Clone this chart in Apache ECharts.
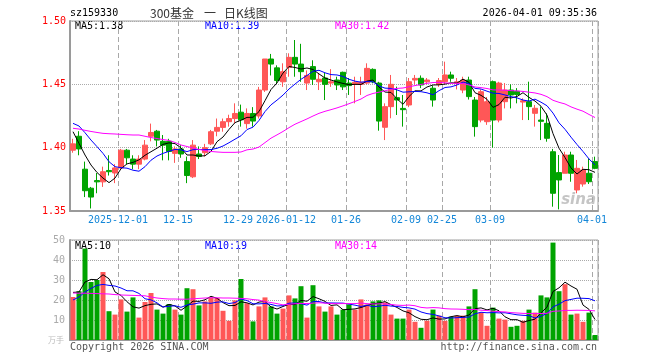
<!DOCTYPE html>
<html><head><meta charset="utf-8">
<script src="https://cdn.jsdelivr.net/npm/echarts@6/dist/echarts.min.js"></script>
<style>html,body{margin:0;padding:0;background:#fff}#c{width:660px;height:360px}</style>
</head><body><div id="c"></div>
<script>
const dates = ['2025-11-19','2025-11-20','2025-11-21','2025-11-24','2025-11-25','2025-11-26','2025-11-27','2025-11-28','2025-12-01','2025-12-02','2025-12-03','2025-12-04','2025-12-05','2025-12-08','2025-12-09','2025-12-10','2025-12-11','2025-12-12','2025-12-15','2025-12-16','2025-12-17','2025-12-18','2025-12-19','2025-12-22','2025-12-23','2025-12-24','2025-12-25','2025-12-26','2025-12-29','2025-12-30','2025-12-31','2026-01-05','2026-01-06','2026-01-07','2026-01-08','2026-01-09','2026-01-12','2026-01-13','2026-01-14','2026-01-15','2026-01-16','2026-01-19','2026-01-20','2026-01-21','2026-01-22','2026-01-23','2026-01-26','2026-01-27','2026-01-28','2026-01-29','2026-01-30','2026-02-02','2026-02-03','2026-02-04','2026-02-05','2026-02-06','2026-02-09','2026-02-10','2026-02-11','2026-02-12','2026-02-13','2026-02-24','2026-02-25','2026-02-26','2026-02-27','2026-03-02','2026-03-03','2026-03-04','2026-03-05','2026-03-06','2026-03-09','2026-03-10','2026-03-11','2026-03-12','2026-03-13','2026-03-16','2026-03-17','2026-03-18','2026-03-19','2026-03-20','2026-03-23','2026-03-24','2026-03-25','2026-03-26','2026-03-27','2026-03-30','2026-03-31','2026-04-01'];

const opens = [1.398,1.409,1.383,1.368,1.374,1.373,1.382,1.380,1.384,1.398,1.391,1.387,1.391,1.409,1.413,1.405,1.405,1.3955,1.399,1.389,1.377,1.395,1.396,1.403,1.413,1.416,1.4205,1.423,1.428,1.419,1.427,1.425,1.4455,1.470,1.463,1.452,1.4634,1.4713,1.466,1.451,1.464,1.452,1.455,1.451,1.4534,1.4595,1.451,1.450,1.450,1.451,1.4618,1.451,1.4161,1.4324,1.4395,1.431,1.4337,1.4534,1.4548,1.452,1.4469,1.450,1.4521,1.4574,1.451,1.4455,1.4534,1.4376,1.4218,1.4205,1.4521,1.4218,1.4363,1.4455,1.4445,1.436,1.4363,1.4271,1.4218,1.4192,1.3968,1.3803,1.3798,1.3942,1.3666,1.3713,1.3798,1.389];
const closes = [1.403,1.399,1.366,1.361,1.373,1.381,1.381,1.384,1.398,1.392,1.387,1.391,1.402,1.412,1.406,1.402,1.397,1.399,1.395,1.378,1.402,1.393,1.400,1.4126,1.416,1.4205,1.423,1.427,1.422,1.427,1.421,1.4455,1.470,1.466,1.453,1.460,1.4713,1.466,1.460,1.457,1.454,1.454,1.450,1.452,1.4495,1.448,1.449,1.4516,1.4516,1.4626,1.452,1.421,1.4324,1.450,1.4376,1.430,1.4521,1.4547,1.4495,1.4534,1.4376,1.453,1.4574,1.4548,1.452,1.4534,1.4403,1.4166,1.4442,1.4363,1.4218,1.451,1.4455,1.4416,1.442,1.437,1.4324,1.4311,1.4208,1.4074,1.364,1.3745,1.3942,1.3798,1.3837,1.3824,1.3731,1.3837];
const lows = [1.396,1.394,1.361,1.352,1.364,1.369,1.378,1.372,1.383,1.387,1.383,1.383,1.390,1.405,1.401,1.390,1.390,1.388,1.392,1.372,1.376,1.391,1.393,1.402,1.409,1.4126,1.4166,1.419,1.4166,1.415,1.4166,1.423,1.444,1.457,1.451,1.448,1.456,1.456,1.452,1.4455,1.4495,1.4455,1.4376,1.448,1.4455,1.4455,1.4416,1.435,1.4416,1.450,1.4508,1.4134,1.406,1.4232,1.4258,1.4166,1.432,1.450,1.447,1.450,1.4324,1.448,1.450,1.452,1.446,1.443,1.438,1.4087,1.420,1.418,1.400,1.420,1.431,1.431,1.435,1.4218,1.4218,1.4166,1.406,1.4047,1.3534,1.3513,1.3798,1.3731,1.364,1.3692,1.3713,1.383];
const highs = [1.407,1.413,1.389,1.369,1.380,1.385,1.394,1.387,1.399,1.399,1.394,1.394,1.406,1.419,1.414,1.410,1.407,1.401,1.402,1.393,1.406,1.401,1.403,1.414,1.423,1.423,1.426,1.435,1.434,1.431,1.432,1.448,1.470,1.474,1.465,1.4666,1.4745,1.485,1.482,1.461,1.469,1.459,1.459,1.462,1.456,1.460,1.455,1.456,1.456,1.4666,1.4626,1.452,1.435,1.4574,1.4482,1.4416,1.455,1.4574,1.457,1.455,1.449,1.455,1.4679,1.460,1.455,1.456,1.456,1.440,1.446,1.440,1.453,1.452,1.451,1.450,1.447,1.439,1.4521,1.4337,1.4324,1.4271,1.399,1.3942,1.3968,1.3968,1.3903,1.385,1.3916,1.3929];
const volumes = [21.5,24.4,45.7,29,30,34,14.4,12.7,20.3,14.2,21.3,11.2,19,23.5,15.2,13.2,18,15.2,12.7,25.9,25.4,17.3,19.3,21.3,21,14.6,9.6,19.8,30.5,18.4,9.3,16.8,21.3,16.8,13.2,15.7,22.3,20.8,26.9,11.2,27.4,16.8,14.2,16.8,12.7,15.2,17.8,15.2,20.3,17.8,19.3,19.8,18.8,12.7,10.7,10.7,15.2,9.1,6.1,9.6,15.2,12.2,9.6,11.7,12.2,12.2,16.8,25.4,13.7,7.1,16.2,10.7,10.2,6.6,7.1,9.6,15.2,13.7,22.3,21.3,48.7,24.4,27.9,12.7,13.2,9.1,13.7,2.5];

// moving-average values for the bars before a full window exists
const ma5Head = [1.4126,1.4034,1.3942,1.3863];
const ma10Head = [1.4192,1.4171,1.4118,1.406,1.4008,1.3955,1.3889,1.385,1.3842];
const ma30Head = [1.4153,1.4147,1.4137,1.4128,1.412,1.4113,1.411,1.4108,1.4105,1.4102,1.41,1.41,1.409,1.408,1.4072,1.4064,1.4057,1.4041,1.4021,1.4009,1.3997,1.3986,1.3978,1.397,1.3966,1.3963,1.3963,1.3963,1.3966];
const vma5Head = [23.8,24,29,30.3];
const vma10Head = [20,21.5,24,25.8,27.3,27.8,27.3,27,26];
const vma30Head = [23.5,23.4,23.4,23.3,23.2,23.1,23,22.7,22.5,22.4,22.3,22.2,22.1,21.5,21,20.7,20.5,20.5,20.4,20.4,20.6,20.8,21,21.1,21.1,21,21,20.9,20.8];

const tickDates = ['2025-12-01','2025-12-15','2025-12-29','2026-01-12','2026-01-26','2026-02-09','2026-02-25','2026-03-09','2026-04-01'];
const tickLabels = ['2025-12-01','12-15','12-29','2026-01-12','01-26','02-09','02-25','03-09','04-01'];
const priceTicks = [1.35,1.40,1.45,1.50];
const volTicks = [10,20,30,40,50];
const titleParts = ['300基金','一','日K线图'];

const RED = '#ff5757', GREEN = '#00a300';
function ma(arr, n, head){
  return arr.map((v,i)=>{
    if(i < n-1) return head[i];
    let s=0; for(let k=i-n+1;k<=i;k++) s+=arr[k];
    return +(s/n).toFixed(4);
  });
}
const candle = dates.map((d,i)=>[opens[i],closes[i],lows[i],highs[i]]);
const volData = volumes.map((v,i)=>({value:v,itemStyle:{color: closes[i]>=opens[i]?RED:GREEN}}));
const MONO = '"DejaVu Sans Mono", "Liberation Mono", monospace';
const CJK = '"Noto Sans CJK SC", sans-serif';
const isTick = (idx, val) => tickDates.indexOf(val) >= 0;

const chart = echarts.init(document.getElementById('c'), null, {renderer:'canvas'});
const xBase = {
  type:'category', data:dates, boundaryGap:true,
  axisTick:{show:false},
  axisLine:{show:true, lineStyle:{color:'#9a9a9a', width:2}},
  splitLine:{show:true, interval:isTick, lineStyle:{color:'#a8a8a8', type:[5,3], width:1}}
};
const txt = (x,y,text,fill,font,align) => ({type:'text', x:x, y:y, silent:true,
  style:{text:text, font:font, fill:fill, align:align||'left', verticalAlign:'middle'}});
chart.setOption({
  animation:false,
  backgroundColor:'#fff',
  grid:[
    {left:70, top:21, width:528, height:190, show:true, borderColor:'#a0a0a0', borderWidth:1},
    {left:70, top:240, width:528, height:100, show:true, borderColor:'#a0a0a0', borderWidth:1}
  ],
  xAxis:[
    Object.assign({}, xBase, {gridIndex:0,
      axisLabel:{show:true, interval:isTick, margin:4, color:'#1487d8', fontFamily:MONO, fontSize:10,
        padding:[0,6,0,0],
        formatter:(v)=>tickLabels[tickDates.indexOf(v)] || ''}}),
    Object.assign({}, xBase, {gridIndex:1, axisLabel:{show:false}})
  ],
  yAxis:[
    {gridIndex:0, type:'value', min:priceTicks[0], max:priceTicks[priceTicks.length-1], interval:0.05,
      axisLine:{show:true, lineStyle:{color:'#9a9a9a', width:2}}, axisTick:{show:false},
      axisLabel:{color:'#ff0000', fontFamily:MONO, fontSize:10, margin:4, formatter:(v)=>v.toFixed(2)},
      splitLine:{show:true, lineStyle:{color:'#aaaaaa', type:'dotted'}}},
    {gridIndex:1, type:'value', min:0, max:volTicks[volTicks.length-1], interval:10,
      axisLine:{show:true, lineStyle:{color:'#9a9a9a', width:2}}, axisTick:{show:false},
      axisLabel:{color:'#aaaaaa', fontFamily:MONO, fontSize:10, margin:5, formatter:(v)=> v===0?'':String(v)},
      splitLine:{show:true, lineStyle:{color:'#aaaaaa', type:'dotted'}}}
  ],
  series:[
    {type:'candlestick', xAxisIndex:0, yAxisIndex:0, data:candle, barWidth:5,
      itemStyle:{color:RED, color0:GREEN, borderColor:RED, borderColor0:GREEN, borderWidth:1}},
    {type:'line', xAxisIndex:0, yAxisIndex:0, data:ma(closes,5,ma5Head), symbol:'none', lineStyle:{color:'#000', width:1}},
    {type:'line', xAxisIndex:0, yAxisIndex:0, data:ma(closes,10,ma10Head), symbol:'none', lineStyle:{color:'#0000ff', width:1}},
    {type:'line', xAxisIndex:0, yAxisIndex:0, data:ma(closes,30,ma30Head), symbol:'none', lineStyle:{color:'#ff00ff', width:1}},
    {type:'bar', xAxisIndex:1, yAxisIndex:1, data:volData, barWidth:5},
    {type:'line', xAxisIndex:1, yAxisIndex:1, data:ma(volumes,5,vma5Head), symbol:'none', lineStyle:{color:'#000', width:1}},
    {type:'line', xAxisIndex:1, yAxisIndex:1, data:ma(volumes,10,vma10Head), symbol:'none', lineStyle:{color:'#0000ff', width:1}},
    {type:'line', xAxisIndex:1, yAxisIndex:1, data:ma(volumes,30,vma30Head), symbol:'none', lineStyle:{color:'#ff00ff', width:1}}
  ],
  graphic:[
    txt(70,13,'sz159330','#000','10px '+MONO),
    txt(150,13,titleParts[0],'#333','12px '+CJK),
    txt(204,13,titleParts[1],'#333','12px '+CJK),
    txt(224,13,titleParts[2],'#333','12px '+CJK),
    txt(597,13,'2026-04-01 09:35:36','#000','10px '+MONO,'right'),
    txt(75,26,'MA5:1.38','#000','10px '+MONO),
    txt(205,26,'MA10:1.39','#0000ff','10px '+MONO),
    txt(335,26,'MA30:1.42','#ff00ff','10px '+MONO),
    txt(75,246,'MA5:10','#000','10px '+MONO),
    txt(205,246,'MA10:19','#0000ff','10px '+MONO),
    txt(335,246,'MA30:14','#ff00ff','10px '+MONO),
    txt(48,340,'万手','#bbbbbb','8px '+CJK),
    txt(70,347,'Copyright 2026 SINA.COM','#555','10px '+MONO),
    txt(597,347,'http://finance.sina.com.cn','#555','10px '+MONO,'right'),
    txt(596,200,'sina','rgba(150,150,150,0.55)','italic bold 15px "DejaVu Sans"','right')
  ]
});
</script></body></html>
